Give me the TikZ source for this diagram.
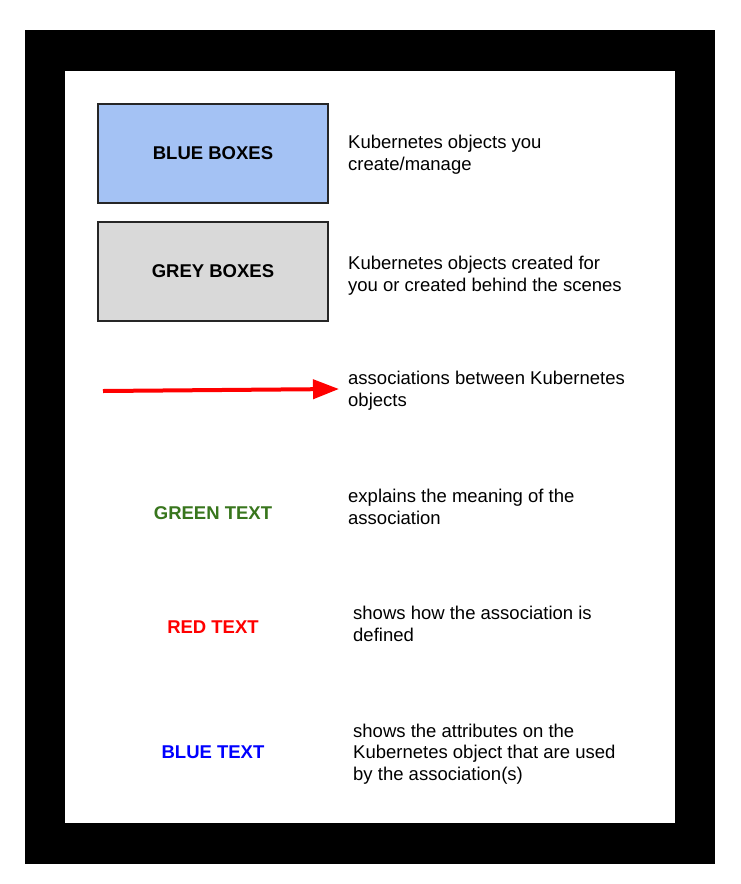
\documentclass[tikz,border=0pt]{standalone}
\usepackage{fontspec}
\setmainfont{Liberation Sans}
\usetikzlibrary{arrows.meta}
\definecolor{boxblue}{HTML}{A4C2F4}
\definecolor{boxgrey}{HTML}{D9D9D9}
\definecolor{txtgreen}{HTML}{38761D}
\definecolor{txtred}{HTML}{FF0000}
\definecolor{txtblue}{HTML}{0000FF}
\begin{document}
\begin{tikzpicture}[x=1pt,y=-1pt,
  every node/.style={font=\fontsize{18.5}{22}\selectfont},
  legendbox/.style={draw=black!85, line width=1.3pt, minimum width=230pt, minimum height=99pt, inner sep=0pt, font=\fontsize{18.5}{22}\selectfont\bfseries},
  desc/.style={anchor=base west, align=left, inner sep=0pt},
  sample/.style={anchor=base, inner sep=0pt, font=\fontsize{18.5}{22}\selectfont\bfseries},
  assoc/.style={draw=txtred, line width=4pt, -{Triangle[length=26pt,width=19pt]}}
]
\useasboundingbox (0,0) rectangle (740,884);
\fill[black] (25,30) rectangle (715,864);
\fill[white] (65,71) rectangle (675,823);

\node[legendbox, fill=boxblue] (blue) at (213,153.5) {BLUE BOXES};
\node[legendbox, fill=boxgrey] (grey) at (213,271.5) {GREY BOXES};

\coordinate (a1) at (103,391);
\coordinate (a2) at (339,389);
\draw[assoc] (a1) -- (a2);

\node[sample, text=txtgreen] (green) at (213,519) {GREEN TEXT};
\node[sample, text=txtred] (red) at (213,633) {RED TEXT};
\node[sample, text=txtblue] (bluetxt) at (213,758) {BLUE TEXT};

% base anchor of a multi-line node is the baseline of its last line
\node[desc] (d1) at (348,170) {Kubernetes objects you\\create/manage};
\node[desc] (d2) at (348,291) {Kubernetes objects created for\\you or created behind the scenes};
\node[desc] (d3) at (348,406) {associations between Kubernetes\\objects};
\node[desc] (d4) at (348,524) {explains the meaning of the\\association};
\node[desc] (d5) at (353,641) {shows how the association is\\defined};
\node[desc, font=\fontsize{18.5}{21.5}\selectfont] (d6) at (353,780) {shows the attributes on the\\Kubernetes object that are used\\by the association(s)};
\end{tikzpicture}
\end{document}
